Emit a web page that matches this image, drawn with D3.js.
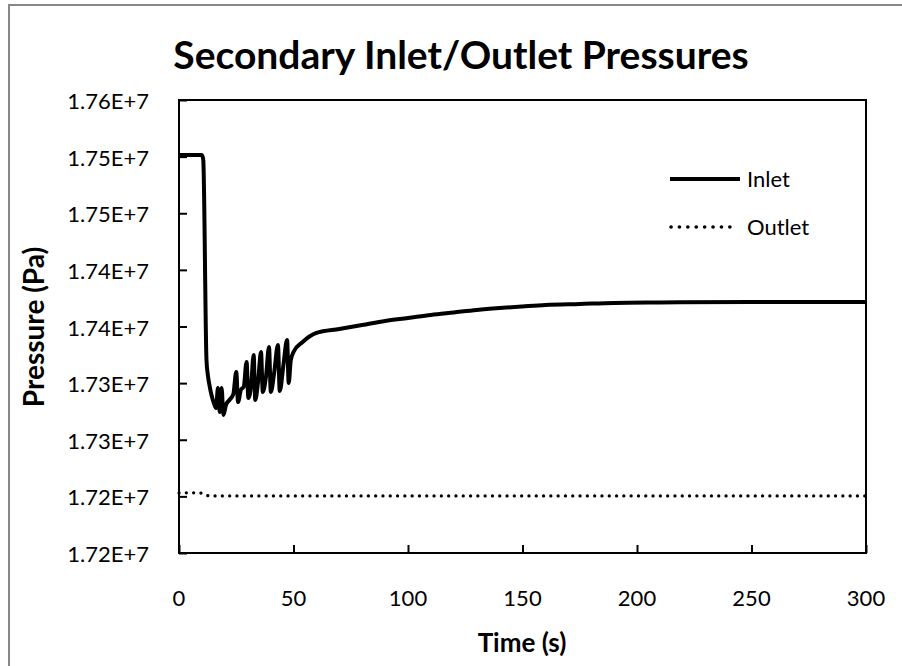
<!DOCTYPE html>
<html>
<head>
  <meta charset="utf-8"/>
  <title>Secondary Inlet/Outlet Pressures</title>
  <script src="https://d3js.org/d3.v7.min.js"></script>
  <style>
    body { margin: 0; background: #fff; }
    text { font-family: Lato, "Open Sans", sans-serif; fill: #000; }
  </style>
</head>
<body>
<div id="chart"></div>
<script>
// data
var inletTime = [0, 10, 10.6, 12, 12.6, 13.3, 14.2, 15.2, 16.2, 17, 17.8, 18.6, 19.4, 20.5, 22, 23.7,
  25, 25.8, 27, 28.3, 29.5, 30.3, 31.5, 32.6, 33.3, 34.6, 35.8, 36.6, 38, 39.3, 40.1, 41.6,
  43.2, 44, 45.6, 47.2, 47.9, 48.8, 50, 54, 60, 70, 80, 90, 100, 110, 120, 130, 140, 150,
  160, 175, 190, 210, 250, 300]
var inletPressure = [17501400, 17501400, 17497000, 17320400, 17307200, 17298300, 17289500, 17282500,
  17278000, 17295700, 17274500, 17295700, 17271900, 17280700, 17285100, 17290000,
  17309800, 17283300, 17293900, 17297000, 17318700, 17286900, 17298000, 17324800,
  17285100, 17302800, 17327500, 17292200, 17306000, 17331900, 17292200, 17309800,
  17333700, 17293000, 17316000, 17338100, 17300100, 17320000, 17327500, 17336300,
  17344300, 17347800, 17351300, 17354900, 17357500, 17360200, 17362400, 17364600,
  17366300, 17367700, 17369000, 17369900, 17370800, 17371200, 17371600, 17371600]
var outletTime = [0, 5, 10, 12, 14, 300]
var outletPressure = [17203000, 17203200, 17202800, 17201000, 17200400, 17200400]

var xTicks = [0, 50, 100, 150, 200, 250, 300]
var yTicks = [17150000, 17200000, 17250000, 17300000, 17350000, 17400000, 17450000, 17500000, 17550000]
var yTickLabels = ["1.72E+7", "1.72E+7", "1.73E+7", "1.73E+7", "1.74E+7", "1.74E+7", "1.75E+7", "1.75E+7", "1.76E+7"]

var width = 902, height = 666
var plotL = 179, plotR = 866, plotT = 100, plotB = 553

var svg = d3.select("#chart").append("svg")
  .attr("width", width)
  .attr("height", height)

// grey outer frame (right/bottom sides fall outside the picture)
svg.append("rect")
  .attr("x", 9).attr("y", 5)
  .attr("width", 1000).attr("height", 1000)
  .attr("fill", "none")
  .attr("stroke", "#878787")
  .attr("stroke-width", 2)

var x = d3.scaleLinear().domain([0, 300]).range([plotL, plotR])
var y = d3.scaleLinear().domain([17150000, 17550000]).range([plotB, plotT])

// title
svg.append("text")
  .attr("x", 461).attr("y", 69)
  .attr("text-anchor", "middle")
  .style("font-size", "39px")
  .style("font-weight", "bold")
  .text("Secondary Inlet/Outlet Pressures")

// plot frame
svg.append("rect")
  .attr("x", plotL).attr("y", plotT)
  .attr("width", plotR - plotL).attr("height", plotB - plotT)
  .attr("fill", "none")
  .attr("stroke", "#000")
  .attr("stroke-width", 2)

// y axis, inward ticks
var yAxis = svg.append("g")
  .attr("transform", "translate(" + plotL + ",0)")
  .call(d3.axisRight(y).tickValues(yTicks).tickSize(8).tickFormat(""))
yAxis.select(".domain").remove()
yAxis.selectAll("line").attr("stroke-width", 2)

svg.selectAll(".ylab")
  .data(yTicks)
  .enter().append("text")
  .attr("class", "ylab")
  .attr("x", 149)
  .attr("y", function(d) { return y(d) + 9 })
  .attr("text-anchor", "end")
  .style("font-size", "22px")
  .text(function(d, i) { return yTickLabels[i] })

// x axis, inward ticks
var xAxis = svg.append("g")
  .attr("transform", "translate(0," + plotB + ")")
  .call(d3.axisTop(x).tickValues(xTicks).tickSize(8).tickFormat(""))
xAxis.select(".domain").remove()
xAxis.selectAll("line").attr("stroke-width", 2)

svg.selectAll(".xlab")
  .data(xTicks)
  .enter().append("text")
  .attr("class", "xlab")
  .attr("x", function(d) { return x(d) })
  .attr("y", 606)
  .attr("text-anchor", "middle")
  .style("font-size", "22px")
  .text(function(d) { return d })

// axis titles
svg.append("text")
  .attr("x", 522).attr("y", 652)
  .attr("text-anchor", "middle")
  .style("font-size", "26px")
  .style("font-weight", "bold")
  .text("Time (s)")

svg.append("text")
  .attr("transform", "translate(44,327) rotate(-90)")
  .attr("text-anchor", "middle")
  .style("font-size", "28px")
  .style("font-weight", "bold")
  .text("Pressure (Pa)")

// series
var line = d3.line()
  .x(function(d) { return x(d[0]) })
  .y(function(d) { return y(d[1]) })
  .curve(d3.curveMonotoneX)

svg.append("path")
  .datum(outletTime.map(function(t, i) { return [t, outletPressure[i]] }))
  .attr("d", line)
  .attr("fill", "none")
  .attr("stroke", "#000")
  .attr("stroke-width", 3.2)
  .attr("stroke-linecap", "round")
  .attr("stroke-dasharray", "0.1 7.2")

svg.append("path")
  .datum(inletTime.map(function(t, i) { return [t, inletPressure[i]] }))
  .attr("d", line)
  .attr("fill", "none")
  .attr("stroke", "#000")
  .attr("stroke-width", 4)
  .attr("stroke-linejoin", "round")

// legend
var legend = svg.append("g")
legend.append("line")
  .attr("x1", 670).attr("x2", 740).attr("y1", 179).attr("y2", 179)
  .attr("stroke", "#000").attr("stroke-width", 4)
legend.append("text")
  .attr("x", 747).attr("y", 187)
  .style("font-size", "22px")
  .text("Inlet")
legend.append("line")
  .attr("x1", 671).attr("x2", 738).attr("y1", 227).attr("y2", 227)
  .attr("stroke", "#000").attr("stroke-width", 3.6)
  .attr("stroke-linecap", "round")
  .attr("stroke-dasharray", "0.1 8.3")
legend.append("text")
  .attr("x", 747).attr("y", 235)
  .style("font-size", "22px")
  .text("Outlet")
</script>
</body>
</html>
